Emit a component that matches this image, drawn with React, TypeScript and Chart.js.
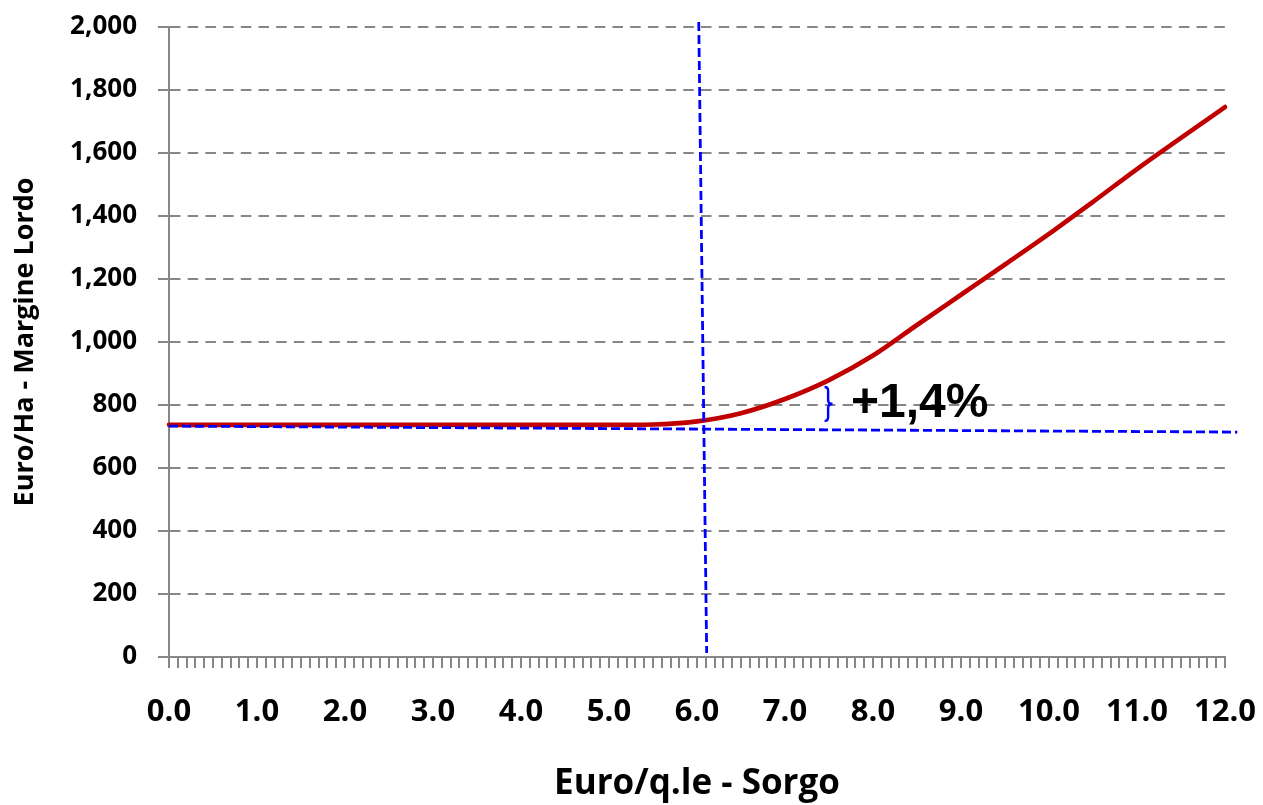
import React, { useEffect, useRef } from "react";
import { Chart, registerables } from "chart.js";

Chart.register(...registerables);

// Sorgo price (Euro/q.le) and gross margin (Euro/Ha)
const priceSorgo = [0, 0.5, 1, 1.5, 2, 2.5, 3, 3.5, 4, 4.5, 5, 5.5, 6, 6.5, 7, 7.5, 8, 8.5, 9, 9.5, 10, 10.5, 11, 11.5, 12];
const margineLordo = [737, 737, 737, 737, 737, 737, 737, 737, 737, 737, 737, 738, 748, 774, 819, 879, 957, 1054, 1150, 1246, 1343, 1445, 1549, 1648, 1746];

// Blue dashed guide lines
const guideVX = [6.02, 6.11];
const guideVY = [2016, 13];
const guideHX = [0, 12.14];
const guideHY = [733, 714];

// Annotation "+1,4%" with brace
const annotationText = "+1,4%";
const annotationX = 7.75;
const annotationY = 762;
const braceX = [7.45, 7.49, 7.54]; // left, spine, tip
const braceY = [857, 749]; // top, bottom

// Axis labels / titles
const xTitle = "Euro/q.le - Sorgo";
const yTitle = "Euro/Ha - Margine Lordo";
const yMin = 0;
const yMax = 2000;
const yStep = 200;
const xMin = 0;
const xMax = 12;
const xStep = 0.1;

const GRAY = "#868686";
const BLUE = "#0000ff";
const RED = "#c00000";
const FONT = "'Open Sans'";

const annotationPlugin = {
  id: "annotationPlugin",
  afterDatasetsDraw(chart: any) {
    const { ctx } = chart;
    const xs = chart.scales.x;
    const ys = chart.scales.y;
    const x0 = xs.getPixelForValue(braceX[0]);
    const xm = xs.getPixelForValue(braceX[1]);
    const xt = xs.getPixelForValue(braceX[2]);
    const yt = ys.getPixelForValue(braceY[0]);
    const yb = ys.getPixelForValue(braceY[1]);
    const ym = (yt + yb) / 2;
    ctx.save();
    ctx.strokeStyle = BLUE;
    ctx.lineWidth = 2.4;
    ctx.beginPath();
    ctx.moveTo(x0, yt);
    ctx.quadraticCurveTo(xm, yt, xm, yt + 4);
    ctx.lineTo(xm, ym - 4);
    ctx.quadraticCurveTo(xm, ym, xt, ym);
    ctx.quadraticCurveTo(xm, ym, xm, ym + 4);
    ctx.lineTo(xm, yb - 4);
    ctx.quadraticCurveTo(xm, yb, x0, yb);
    ctx.stroke();

    ctx.fillStyle = "#000000";
    ctx.font = "bold 48px 'Liberation Sans', Arial, sans-serif";
    ctx.textAlign = "left";
    ctx.textBaseline = "alphabetic";
    ctx.fillText(annotationText, xs.getPixelForValue(annotationX), ys.getPixelForValue(annotationY));
    ctx.restore();
  },
};

export default function App() {
  const canvasRef = useRef<HTMLCanvasElement | null>(null);

  useEffect(() => {
    if (!canvasRef.current) return;
    const chart = new Chart(canvasRef.current, {
      type: "line",
      data: {
        datasets: [
          {
            label: "guideV",
            data: guideVX.map((x, i) => ({ x, y: guideVY[i] })),
            borderColor: BLUE,
            borderWidth: 2.8,
            borderDash: [9, 4],
            pointRadius: 0,
            clip: false as any,
            tension: 0,
          },
          {
            label: "guideH",
            data: guideHX.map((x, i) => ({ x, y: guideHY[i] })),
            borderColor: BLUE,
            borderWidth: 2.8,
            borderDash: [9, 4],
            pointRadius: 0,
            clip: false as any,
            tension: 0,
          },
          {
            label: "Margine Lordo",
            data: priceSorgo.map((x, i) => ({ x, y: margineLordo[i] })),
            borderColor: RED,
            borderWidth: 4.6,
            pointRadius: 0,
            cubicInterpolationMode: "monotone",
            borderCapStyle: "round",
            clip: false as any,
          },
        ],
      },
      options: {
        animation: false,
        responsive: false,
        layout: { padding: { left: 0, top: 27, right: 38, bottom: 0 } },
        plugins: {
          legend: { display: false },
          tooltip: { enabled: false },
        },
        scales: {
          x: {
            type: "linear",
            min: xMin,
            max: xMax,
            afterFit: (scale: any) => {
              scale.height = 148;
              scale.paddingLeft = 0;
              scale.paddingRight = 0;
            },
            grid: {
              drawOnChartArea: false,
              drawTicks: true,
              tickLength: 11,
              color: GRAY,
              lineWidth: 2,
            },
            border: { display: true, color: GRAY, width: 2 },
            ticks: {
              stepSize: xStep,
              autoSkip: false,
              maxRotation: 0,
              minRotation: 0,
              padding: 26,
              color: "#000000",
              font: { family: FONT, size: 31, weight: "bold" },
              callback: (v: any) => {
                const n = Number(v);
                return Math.abs(n - Math.round(n)) < 1e-6 ? n.toFixed(1) : "";
              },
            },
            title: {
              display: true,
              text: xTitle,
              color: "#000000",
              font: { family: FONT, size: 35, weight: "bold", lineHeight: 1.2 },
              padding: { top: 0, bottom: 0 },
            },
          },
          y: {
            type: "linear",
            min: yMin,
            max: yMax,
            afterFit: (scale: any) => {
              scale.width = 169;
              scale.paddingTop = 0;
              scale.paddingBottom = 0;
            },
            grid: {
              drawOnChartArea: true,
              drawTicks: true,
              tickLength: 11,
              color: GRAY,
              lineWidth: 2,
            },
            border: { display: true, color: GRAY, width: 2, dash: [10.5, 7.2] },
            ticks: {
              stepSize: yStep,
              padding: 21,
              color: "#000000",
              font: { family: FONT, size: 26, weight: "bold" },
              callback: (v: any) => Number(v).toLocaleString("en-US"),
            },
            title: {
              display: true,
              text: yTitle,
              color: "#000000",
              font: { family: FONT, size: 27, weight: "bold", lineHeight: 1.2 },
              padding: { top: 9, bottom: 0 },
            },
          },
        },
      },
      plugins: [annotationPlugin],
    });
    return () => chart.destroy();
  }, []);

  return (
    <div style={{ position: "fixed", left: 0, top: 0, width: 1263, height: 805, background: "#ffffff" }}>
      <canvas ref={canvasRef} width={1263} height={805} style={{ display: "block" }} />
    </div>
  );
}
